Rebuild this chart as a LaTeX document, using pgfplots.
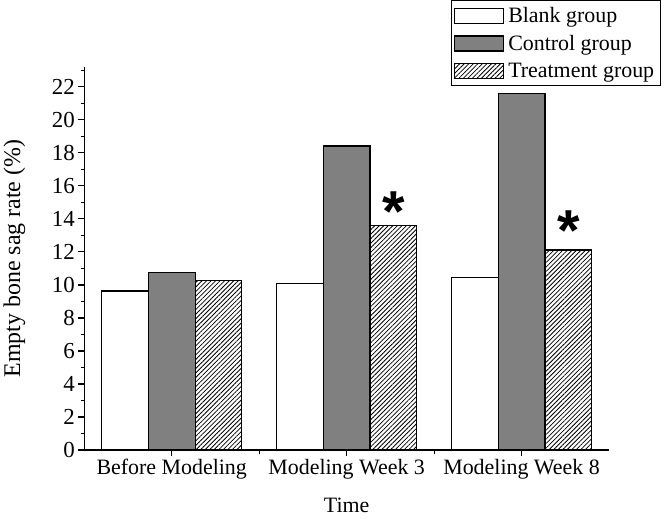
\documentclass[border=0pt]{standalone}
\usepackage{fontspec}
\setmainfont{Liberation Serif}
\newfontfamily\astfont{Liberation Sans}
\usepackage{pgfplots}
\pgfplotsset{compat=1.18}
\usetikzlibrary{patterns.meta}
\definecolor{ctrl}{RGB}{128,128,128}
\begin{document}
\begin{tikzpicture}
\begin{axis}[
  scale only axis,
  width=524.7bp, height=383bp,
  xmin=-0.5, xmax=2.5, ymin=0, ymax=23.2,
  axis x line=bottom, axis y line=left,
  axis line style={line width=1.4bp, -},
  ybar=0pt, bar width=46.7bp,
  xtick={0,1,2},
  xticklabels={Before Modeling, Modeling Week 3, Modeling Week 8},
  minor xtick={0.5,1.5},
  ytick={0,2,...,22}, minor ytick={1,3,...,23},
  tick align=outside,
  major tick length=6bp, minor tick length=3.5bp,
  tick style={line width=1.2bp, black},
  font=\fontsize{22}{26}\selectfont,
  yticklabel style={font=\fontsize{23}{27}\selectfont},
  /pgf/number format/assume math mode=true,
  xlabel={Time},
  ylabel={Empty bone sag rate (\%)},
  every axis x label/.style={at={(axis description cs:0.5,-0.162)}, anchor=base},
  every axis y label/.style={at={(axis description cs:-0.1334,0.5)}, anchor=center, rotate=90, font=\fontsize{24}{28}\selectfont},
  legend image code/.code={\draw[#1, line width=1.2bp] (0bp,-7.5bp) rectangle (49bp,7.5bp);},
  legend style={at={(rel axis cs:0.699,1.175)}, anchor=north west, draw=black, line width=1bp,
    font=\fontsize{22}{26}\selectfont, row sep=5bp, inner xsep=2.5bp, inner ysep=4bp,
    nodes={inner xsep=4bp, inner ysep=3bp}},
  legend cell align=left,
]
\addplot[draw=black, line width=1.2bp, fill=white] coordinates {(0,9.63) (1,10.08) (2,10.47)};
\addplot[draw=black, line width=1.2bp, fill=ctrl] coordinates {(0,10.75) (1,18.42) (2,21.58)};
\addplot[draw=black, line width=1.2bp, pattern={Lines[angle=45,distance=3.2bp,line width=0.8bp]}] coordinates {(0,10.26) (1,13.58) (2,12.12)};
\legend{Blank group, Control group, Treatment group}
\node[inner sep=0pt, anchor=north, font=\astfont\bfseries\fontsize{58}{58}\selectfont] at (axis cs:1.267,15.65) {*};
\node[inner sep=0pt, anchor=north, font=\astfont\bfseries\fontsize{58}{58}\selectfont] at (axis cs:2.267,14.5) {*};
\coordinate (O) at (rel axis cs:0,0);
\end{axis}
\pgfresetboundingbox
\path[use as bounding box] ([xshift=-84.3bp,yshift=-69bp]O) rectangle ++(669bp,519bp);
\end{tikzpicture}
\end{document}
